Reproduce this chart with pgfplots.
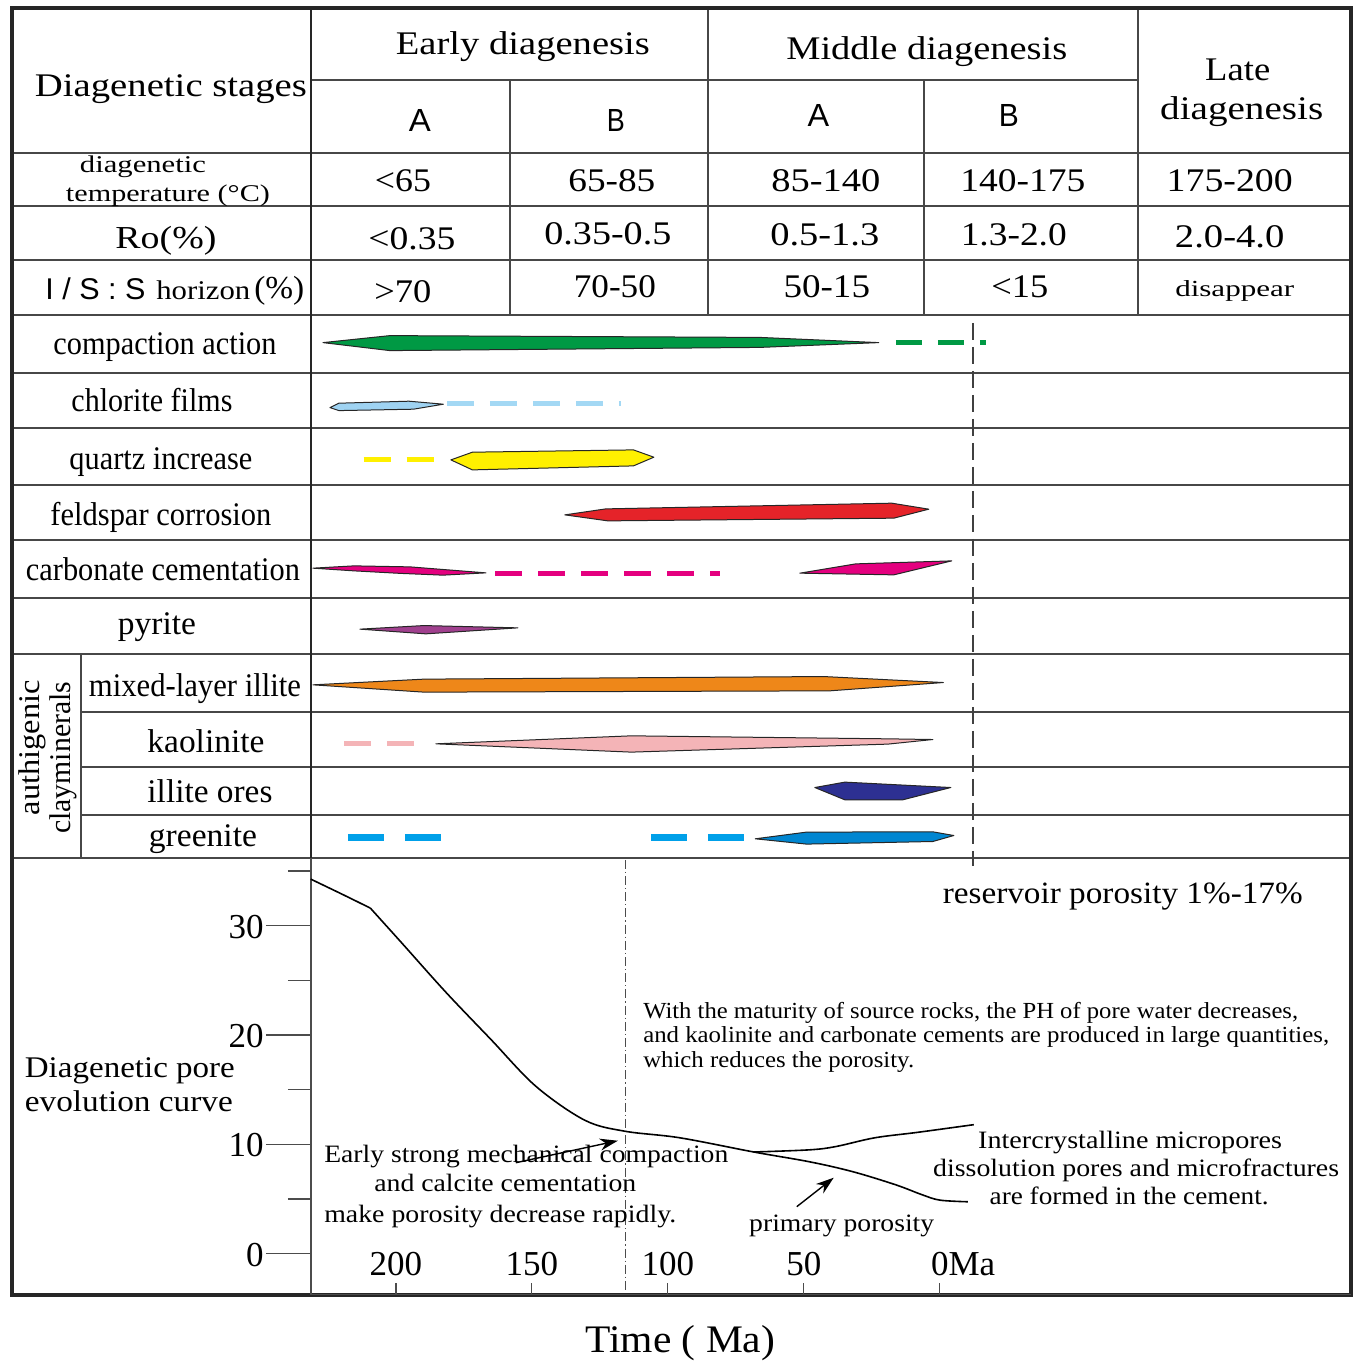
\documentclass[border=0pt]{standalone}
\usepackage{graphicx}
\usepackage{pgfplots}
\pgfplotsset{compat=1.18}
\usepackage{fontspec}
\setmainfont{Liberation Serif}
\newfontfamily\sansf{Liberation Sans}
\usetikzlibrary{arrows.meta}
\definecolor{cgreen}{HTML}{009944}
\definecolor{clblue}{HTML}{9FD3F2}
\definecolor{clbluedash}{HTML}{A3D8F4}
\definecolor{cyellow}{HTML}{FFF000}
\definecolor{cred}{HTML}{E52329}
\definecolor{cmag}{HTML}{E4007F}
\definecolor{cpyr}{HTML}{A0408E}
\definecolor{corange}{HTML}{EE8719}
\definecolor{cpink}{HTML}{F4B4B7}
\definecolor{cnavy}{HTML}{2D3092}
\definecolor{cblue}{HTML}{0086D1}
\definecolor{cbluedash}{HTML}{00A0E9}
\newcommand{\TX}[3]{\resizebox{#1}{\height}{\fontsize{#2}{#2}\selectfont #3}}
\pgfplotsset{
  tl/.style={draw=black!72, line width=1pt},
  bar/.style={draw=black!85, line width=0.5pt, line join=round},
  dsh/.style={line width=2.5pt, dash pattern=on 13.5pt off 8pt},
}
\begin{document}
\begin{tikzpicture}
\begin{axis}[name=main, at={(0,0)}, anchor=south west, scale only axis,
  width=678pt, height=680.5pt, xmin=0, xmax=1356, ymin=-1361, ymax=0,
  hide axis, clip=false]
\path (axis cs:0,0) rectangle (axis cs:1356,-1361);
% ---- table lines
\addplot[tl] coordinates {(311,-80) (1138,-80)};
\addplot[tl] coordinates {(12,-153) (1351,-153)};
\addplot[tl] coordinates {(12,-206) (1351,-206)};
\addplot[tl] coordinates {(12,-260) (1351,-260)};
\addplot[tl] coordinates {(12,-315) (1351,-315)};
\addplot[tl] coordinates {(12,-373) (1351,-373)};
\addplot[tl] coordinates {(12,-428) (1351,-428)};
\addplot[tl] coordinates {(12,-485) (1351,-485)};
\addplot[tl] coordinates {(12,-540) (1351,-540)};
\addplot[tl] coordinates {(12,-598) (1351,-598)};
\addplot[tl] coordinates {(12,-654) (1351,-654)};
\addplot[tl] coordinates {(81,-712) (1351,-712)};
\addplot[tl] coordinates {(81,-767) (1351,-767)};
\addplot[tl] coordinates {(81,-815) (1351,-815)};
\addplot[tl] coordinates {(12,-858) (1351,-858)};
\addplot[tl, line width=1.2pt, draw=black!85] coordinates {(311,-8) (311,-858)};
\addplot[tl] coordinates {(510,-80) (510,-315)};
\addplot[tl] coordinates {(708,-8) (708,-315)};
\addplot[tl] coordinates {(924,-80) (924,-315)};
\addplot[tl] coordinates {(1138,-8) (1138,-315)};
\addplot[tl] coordinates {(81,-654) (81,-858)};
\addplot[draw=black!85, line width=2pt] coordinates {(12,-8) (1351,-8) (1351,-1295) (12,-1295)} -- cycle;
\addplot[draw=black!80, line width=1.4pt] coordinates {(311,-866) (311,-985)};
\addplot[draw=black!75, line width=0.8pt, dash pattern=on 8.5pt off 3.5pt] coordinates {(973,-323) (973,-866)};
\addplot[draw=black!70, line width=0.6pt, dash pattern=on 4.5pt off 1.5pt on 0.6pt off 1.5pt] coordinates {(626,-860) (626,-1292)};
% ---- bars
\addplot[bar, fill=cgreen] coordinates {(323,-342.7) (390,-335.7) (760,-337.5) (879,-342.7) (760,-347.5) (390,-350.7)} -- cycle;
\addplot[draw=cgreen, dsh, line width=2.4pt, dash pattern=on 13pt off 8pt] coordinates {(896,-342.7) (986,-342.7)};
\addplot[bar, fill=clblue] coordinates {(330,-407.7) (339,-403.3) (409,-401.3) (443.5,-404.3) (413.6,-409.3) (339,-410.7)} -- cycle;
\addplot[draw=clbluedash, dsh] coordinates {(447,-403.3) (621,-403.3)};
\addplot[draw=cyellow, dsh] coordinates {(363.6,-459.5) (434,-459.5)};
\addplot[bar, fill=cyellow] coordinates {(451,-460) (472.5,-452.3) (633.6,-450) (654,-457.3) (633.6,-466) (472.5,-470)} -- cycle;
\addplot[bar, fill=cred] coordinates {(565,-515) (606,-509) (892,-503.3) (929,-509.3) (894,-518.3) (608,-521)} -- cycle;
\addplot[bar, fill=cmag] coordinates {(313,-568.3) (354,-566) (410,-567) (486,-573) (443,-575.3) (400,-573.5) (354,-571)} -- cycle;
\addplot[draw=cmag, dsh] coordinates {(495.6,-574) (720,-574)};
\addplot[bar, fill=cmag] coordinates {(800,-573.3) (856,-564) (952,-561) (894,-575)} -- cycle;
\addplot[bar, fill=cpyr] coordinates {(360,-629.3) (424,-625.7) (518,-628) (426,-634)} -- cycle;
\addplot[bar, fill=corange] coordinates {(313,-685) (424,-679.3) (824,-676.7) (943.5,-682.7) (830,-691) (424,-692.3)} -- cycle;
\addplot[draw=cpink, dsh] coordinates {(344,-743.7) (414,-743.7)};
\addplot[bar, fill=cpink] coordinates {(436,-744) (631.5,-736) (888,-739) (933,-739.7) (888,-744.3) (631.5,-752.3)} -- cycle;
\addplot[bar, fill=cnavy] coordinates {(815,-787.7) (845,-782.3) (951,-787.7) (903,-800) (845,-800)} -- cycle;
\addplot[draw=cbluedash, line width=3.5pt, dash pattern=on 18pt off 10.5pt] coordinates {(348,-838) (441,-838)};
\addplot[draw=cbluedash, line width=3.5pt, dash pattern=on 18pt off 10.5pt] coordinates {(651,-838) (744,-838)};
\addplot[bar, fill=cblue] coordinates {(755.4,-839) (806.7,-832.3) (933,-832) (954,-835.7) (933,-841.7) (806.7,-844.3)} -- cycle;
% ---- header texts
\node[anchor=base, inner sep=0] at (axis cs:171,-97) {\TX{136pt}{16.5pt}{Diagenetic stages}};
\node[anchor=base, inner sep=0] at (axis cs:523,-55) {\TX{127pt}{16.5pt}{Early diagenesis}};
\node[anchor=base, inner sep=0] at (axis cs:927,-60) {\TX{140.5pt}{16.5pt}{Middle diagenesis}};
\node[anchor=base, inner sep=0] at (axis cs:1238,-81) {\TX{32.5pt}{16.5pt}{Late}};
\node[anchor=base, inner sep=0] at (axis cs:1242,-120) {\TX{81.5pt}{16.5pt}{diagenesis}};
\node[anchor=base, inner sep=0] at (axis cs:420,-132) {\TX{11pt}{16pt}{\sansf A}};
\node[anchor=base, inner sep=0] at (axis cs:616,-132) {\TX{9pt}{16pt}{\sansf B}};
\node[anchor=base, inner sep=0] at (axis cs:818.5,-127) {\TX{10.8pt}{16pt}{\sansf A}};
\node[anchor=base, inner sep=0] at (axis cs:1009,-127) {\TX{10pt}{16pt}{\sansf B}};
\node[anchor=base, inner sep=0] at (axis cs:143,-173) {\TX{63pt}{12pt}{diagenetic}};
\node[anchor=base, inner sep=0] at (axis cs:168,-202) {\TX{102pt}{12pt}{temperature (°C)}};
\node[anchor=base, inner sep=0] at (axis cs:403,-192) {\TX{28pt}{16.5pt}{<65}};
\node[anchor=base, inner sep=0] at (axis cs:612,-192) {\TX{43.5pt}{16.5pt}{65-85}};
\node[anchor=base, inner sep=0] at (axis cs:826,-192) {\TX{54.5pt}{16.5pt}{85-140}};
\node[anchor=base, inner sep=0] at (axis cs:1023,-192) {\TX{62.5pt}{16.5pt}{140-175}};
\node[anchor=base, inner sep=0] at (axis cs:1230,-192) {\TX{63pt}{16.5pt}{175-200}};
\node[anchor=base, inner sep=0] at (axis cs:166,-249) {\TX{50.5pt}{16pt}{Ro(\%)}};
\node[anchor=base, inner sep=0] at (axis cs:412,-250) {\TX{43.5pt}{16.5pt}{<0.35}};
\node[anchor=base, inner sep=0] at (axis cs:608,-245) {\TX{63.5pt}{16.5pt}{0.35-0.5}};
\node[anchor=base, inner sep=0] at (axis cs:825,-246) {\TX{54.5pt}{16.5pt}{0.5-1.3}};
\node[anchor=base, inner sep=0] at (axis cs:1014,-246) {\TX{53pt}{16.5pt}{1.3-2.0}};
\node[anchor=base, inner sep=0] at (axis cs:1230,-248) {\TX{54.75pt}{16.5pt}{2.0-4.0}};
\node[anchor=base west, inner sep=0] at (axis cs:45,-300) {\TX{50pt}{15pt}{\sansf I / S : S}};
\node[anchor=base west, inner sep=0] at (axis cs:156,-300) {\TX{47pt}{13.5pt}{horizon}};
\node[anchor=base west, inner sep=0] at (axis cs:254,-299) {\TX{25pt}{16pt}{(\%)}};
\node[anchor=base, inner sep=0] at (axis cs:403,-303) {\TX{28.5pt}{16.5pt}{>70}};
\node[anchor=base, inner sep=0] at (axis cs:615,-298) {\TX{41pt}{16.5pt}{70-50}};
\node[anchor=base, inner sep=0] at (axis cs:827,-298) {\TX{43.25pt}{16.5pt}{50-15}};
\node[anchor=base, inner sep=0] at (axis cs:1020,-298) {\TX{28.5pt}{16.5pt}{<15}};
\node[anchor=base, inner sep=0] at (axis cs:1235,-297) {\TX{59.5pt}{11.5pt}{disappear}};
% ---- row labels
\node[anchor=base, inner sep=0] at (axis cs:165,-355) {\TX{111.5pt}{16.5pt}{compaction action}};
\node[anchor=base, inner sep=0] at (axis cs:152,-412) {\TX{80.5pt}{16.5pt}{chlorite films}};
\node[anchor=base, inner sep=0] at (axis cs:161,-470) {\TX{91.5pt}{16.5pt}{quartz increase}};
\node[anchor=base, inner sep=0] at (axis cs:161,-526) {\TX{110.5pt}{16.5pt}{feldspar corrosion}};
\node[anchor=base, inner sep=0] at (axis cs:163,-581) {\TX{137pt}{16.5pt}{carbonate cementation}};
\node[anchor=base, inner sep=0] at (axis cs:157,-635) {\TX{39pt}{16.5pt}{pyrite}};
\node[anchor=base, inner sep=0] at (axis cs:195,-697) {\TX{106pt}{16.5pt}{mixed-layer illite}};
\node[anchor=base, inner sep=0] at (axis cs:206,-753) {\TX{58.5pt}{16.5pt}{kaolinite}};
\node[anchor=base, inner sep=0] at (axis cs:210,-803) {\TX{62.5pt}{16.5pt}{illite ores}};
\node[anchor=base, inner sep=0] at (axis cs:203,-847) {\TX{54pt}{16.5pt}{greenite}};
\node[rotate=90, inner sep=0] at (axis cs:32,-748) {\TX{67.5pt}{15pt}{authigenic}};
\node[rotate=90, inner sep=0] at (axis cs:63,-758) {\TX{76pt}{15pt}{clayminerals}};
% ---- lower panel texts
\node[anchor=base, inner sep=0] at (axis cs:1123,-904) {\TX{180pt}{15.5pt}{reservoir porosity 1\%-17\%}};
\node[anchor=base west, inner sep=0] at (axis cs:24.5,-1078) {\TX{105pt}{15pt}{Diagenetic pore}};
\node[anchor=base west, inner sep=0] at (axis cs:24.5,-1112) {\TX{104pt}{15pt}{evolution curve}};
\node[anchor=base west, inner sep=0] at (axis cs:643,-1019) {\TX{327.5pt}{11.5pt}{With the maturity of source rocks, the PH of pore water decreases,}};
\node[anchor=base west, inner sep=0] at (axis cs:643,-1043) {\TX{343pt}{11.5pt}{and kaolinite and carbonate cements are produced in large quantities,}};
\node[anchor=base west, inner sep=0] at (axis cs:643,-1068) {\TX{135.5pt}{11.5pt}{which reduces the porosity.}};
\node[anchor=base west, inner sep=0] at (axis cs:324,-1163) {\TX{202pt}{12.5pt}{Early strong mechanical compaction}};
\node[anchor=base west, inner sep=0] at (axis cs:374,-1192) {\TX{131pt}{12.5pt}{and calcite cementation}};
\node[anchor=base west, inner sep=0] at (axis cs:324,-1223) {\TX{176pt}{12.5pt}{make porosity decrease rapidly.}};
\node[anchor=base west, inner sep=0] at (axis cs:978,-1149) {\TX{152pt}{12.5pt}{Intercrystalline micropores}};
\node[anchor=base west, inner sep=0] at (axis cs:933,-1177) {\TX{203pt}{12.5pt}{dissolution pores and microfractures}};
\node[anchor=base west, inner sep=0] at (axis cs:989.5,-1205) {\TX{139.5pt}{12.5pt}{are formed in the cement.}};
\node[anchor=base west, inner sep=0] at (axis cs:749,-1232) {\TX{92.5pt}{12.5pt}{primary porosity}};
\node[anchor=base west, inner sep=0] at (axis cs:585,-1353) {\TX{95pt}{19.5pt}{Time ( Ma)}};
\end{axis}
% ---- porosity evolution axis
\begin{axis}[at={(155.5pt,33pt)}, anchor=south west, scale only axis,
  width=520pt, height=218.5pt,
  x filter/.expression={-x},
  xmin=-231.25, xmax=151.1, ymin=-3.748, ymax=36.2,
  axis x line*=bottom, axis y line*=left, clip=false,
  axis line style={draw=black!70, line width=0.6pt},
  xtick={-200,-150,-100,-50,0}, xticklabels={200,150,100,50,{0\rlap{Ma}}},
  ytick={0,10,20,30}, yticklabels={0,10,20,30}, minor ytick={5,15,25,35},
  xtick align=inside, ytick align=outside,
  major tick length=22.5pt, minor tick length=11.5pt,
  tick style={draw=black!70, line width=0.6pt},
  xtick style={/pgfplots/major tick length=6pt},
  /pgf/number format/assume math mode=true,
  ticklabel style={font=\fontsize{17.5}{17.5}\selectfont},
  xticklabel style={anchor=base, yshift=9.5pt},
  yticklabel style={inner sep=1pt, yshift=-0.5pt},
]
\addplot[black, line width=0.8pt, smooth] coordinates {(231.3,34.25) (219.2,32.8) (209.4,31.6)};
\addplot[black, line width=0.8pt, smooth, tension=0.55] coordinates {(209.4,31.6) (197.8,28.4) (181.6,23.9) (165.1,19.6) (148.5,15.3) (130.5,12.2) (115.8,11.2) (95.6,10.6) (68.4,9.3) (47.8,8.4) (32.0,7.5) (16.2,6.3) (6.6,5.4) (0,4.9) (-10.3,4.75)};
\addplot[black, line width=0.8pt, smooth, tension=0.55] coordinates {(68.4,9.3) (47.8,9.5) (38.2,9.8) (23.9,10.6) (8.1,11.1) (-12.5,11.8)};
\addplot[black, line width=0.7pt, -{Stealth[length=9pt,width=6pt]}] coordinates {(155.9,8.32) (118.4,10.33)};
\addplot[black, line width=0.7pt, -{Stealth[length=9pt,width=6pt]}] coordinates {(52.6,4.3) (39.0,6.95)};
\end{axis}
\end{tikzpicture}
\end{document}
